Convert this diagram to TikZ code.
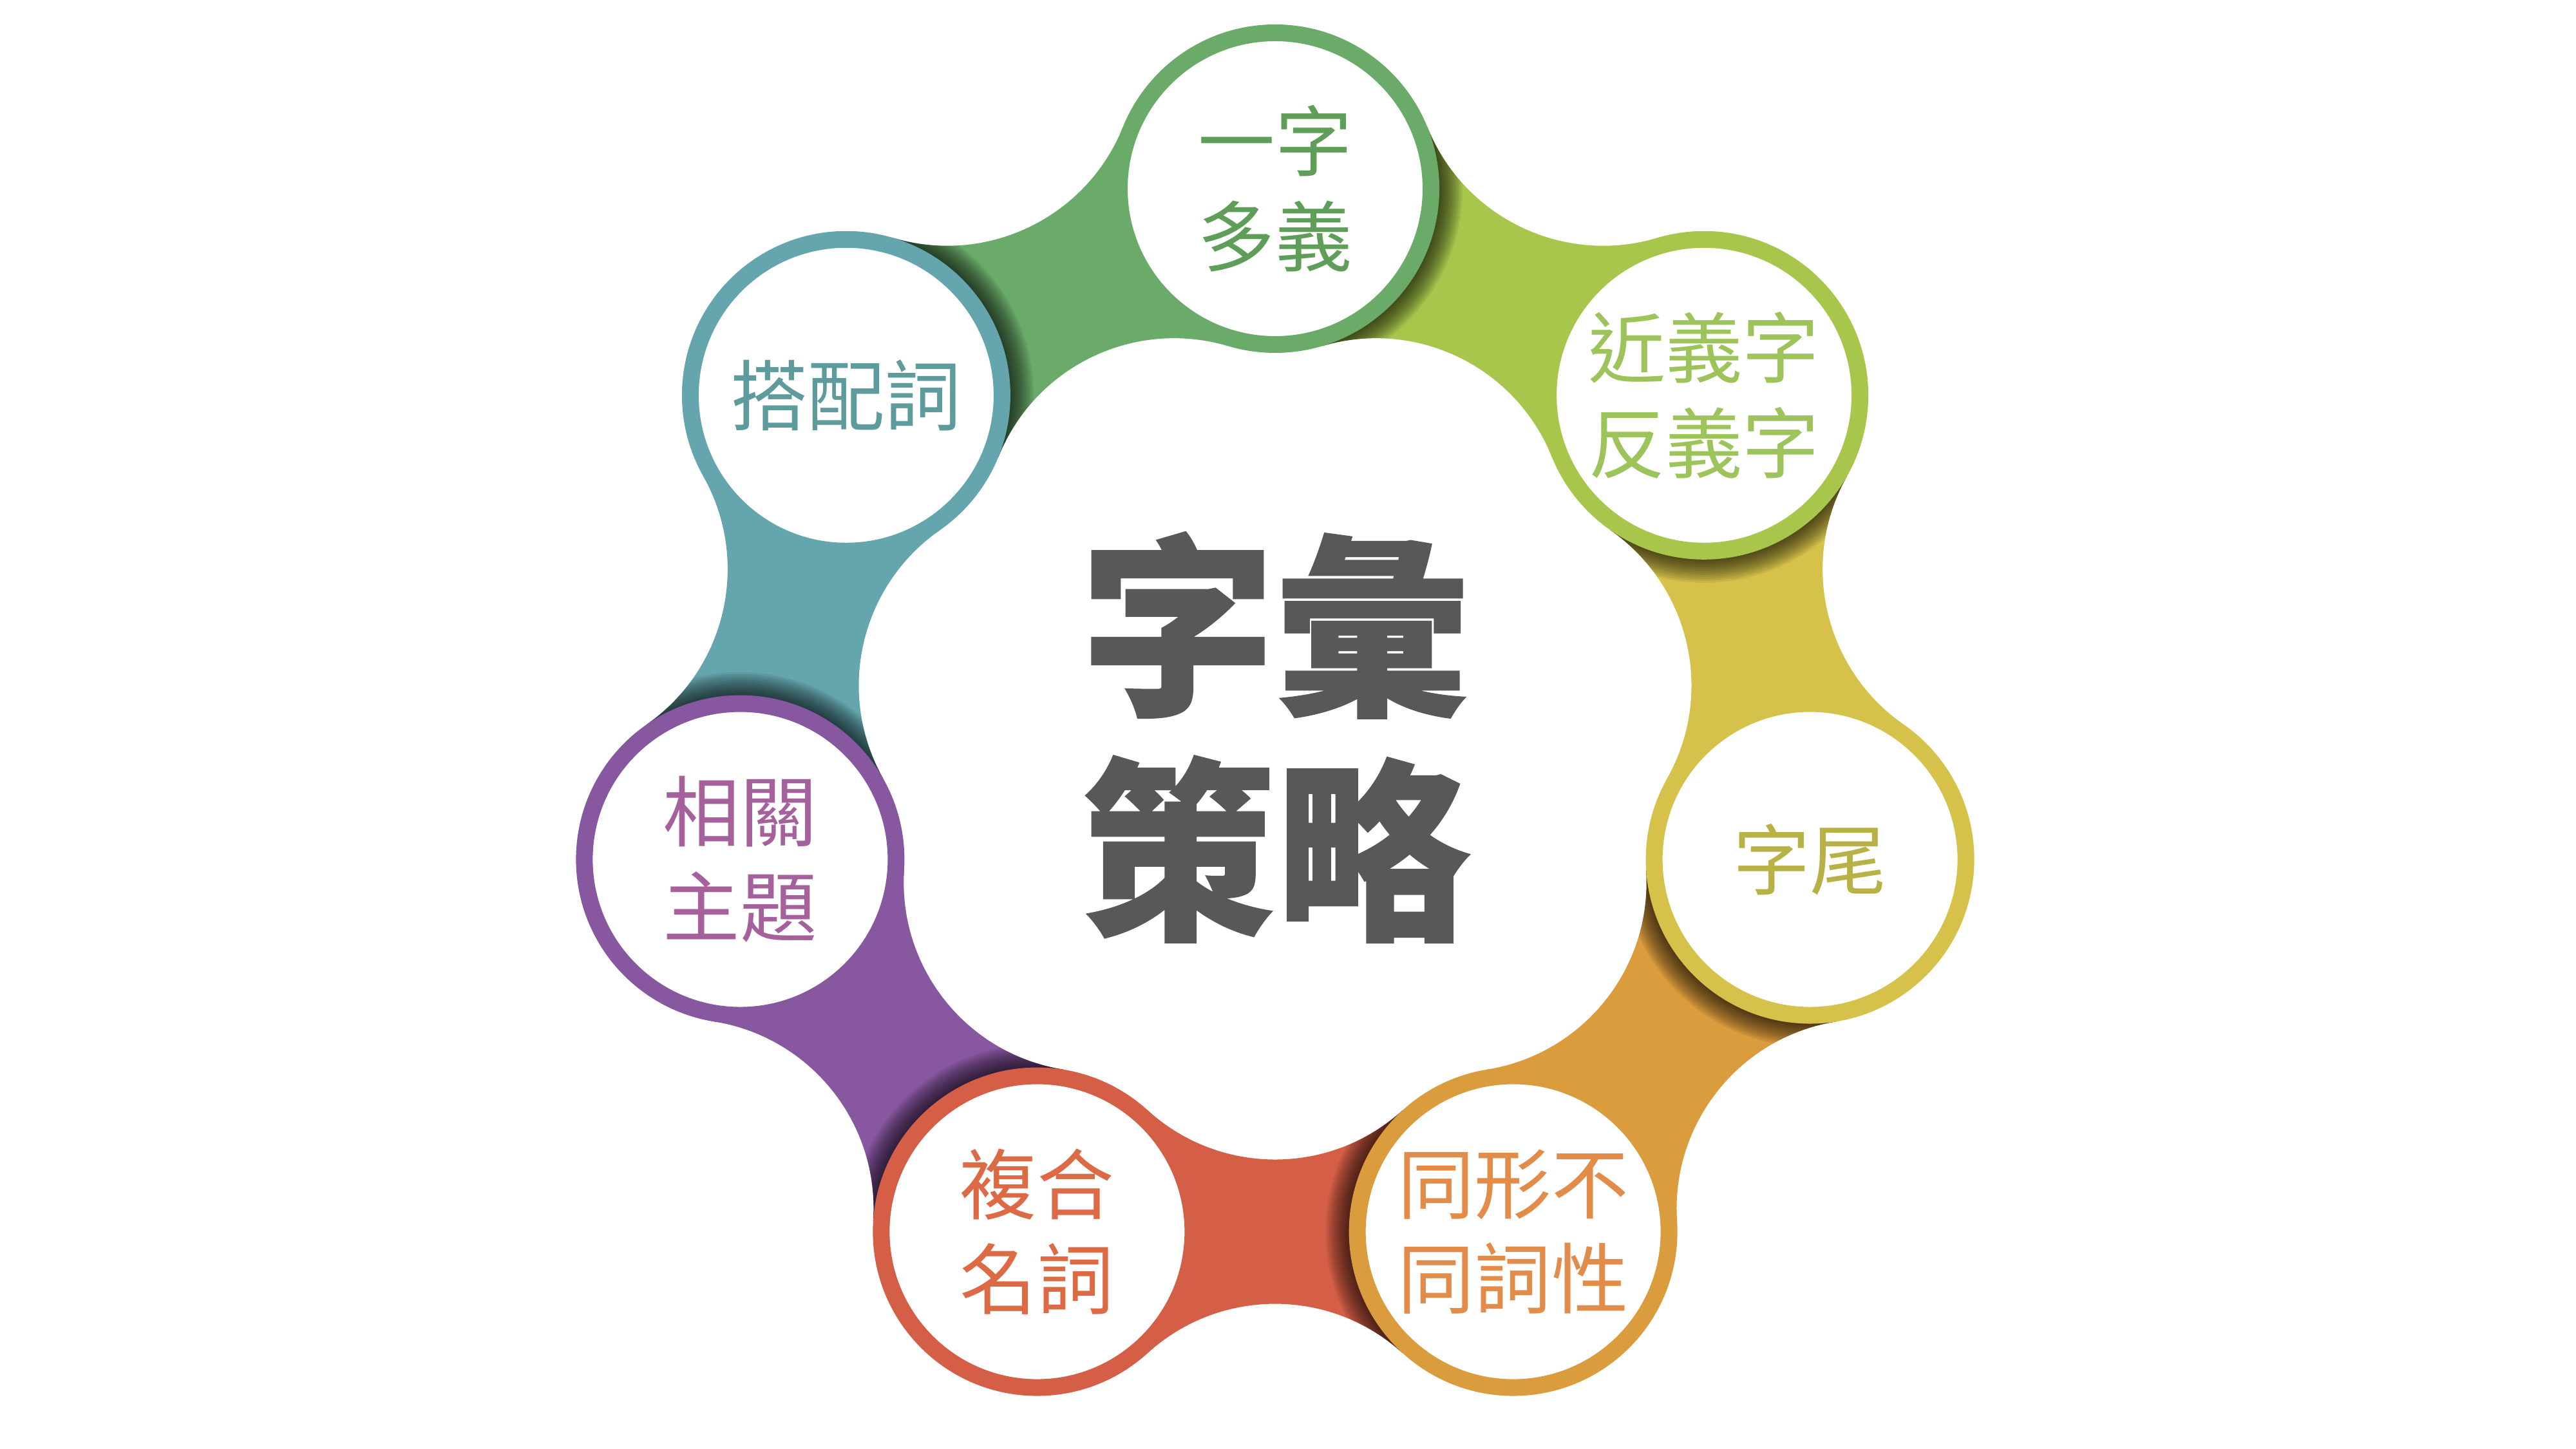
\documentclass[tikz,border=0pt]{standalone}
\usepackage{fontspec}
\usepackage{xcolor}
\newfontfamily\cjk{Noto Sans CJK TC}
\newfontfamily\cjkheavy[BoldFeatures={FakeBold=0.8}]{Noto Sans CJK TC}
\definecolor{GreenA}{HTML}{6AAB6A}
\definecolor{GreenT}{HTML}{5F9E58}
\definecolor{LimeA}{HTML}{A8C64C}
\definecolor{LimeT}{HTML}{9DC45A}
\definecolor{MustardA}{HTML}{D6C24A}
\definecolor{MustardT}{HTML}{B8B246}
\definecolor{OrangeA}{HTML}{DA9C3D}
\definecolor{OrangeT}{HTML}{E38C49}
\definecolor{RedA}{HTML}{D45F46}
\definecolor{RedT}{HTML}{DC6A45}
\definecolor{PurpleA}{HTML}{8757A0}
\definecolor{PurpleT}{HTML}{A5619C}
\definecolor{TealA}{HTML}{65A6AE}
\definecolor{TealT}{HTML}{5E9B9C}
\definecolor{Ink}{HTML}{58585A}
\tikzset{
  bubble/.style 2 args={circle, draw=#1, fill=white, line width=2.6mm, minimum size=48.4mm, inner sep=0pt, align=center, text=#2, font=\cjk\fontsize{34}{42}\selectfont},
  core/.style={align=center, text=Ink, font=\cjkheavy\bfseries\fontsize{86}{99}\selectfont}
}
% one neck between two neighbouring circles, in its own frame
\newcommand\neckpath{(\Ax,\Ay) -- (\Px,\Py) arc[start angle=180-\gam, end angle=180+\gam, radius=\rad] -- (\Ax,-\Ay) -- (\Qx,-\Py) arc[start angle=-\gam, end angle=\gam, radius=\rad] -- cycle}

\begin{document}
\begin{tikzpicture}
  \useasboundingbox (0,0) rectangle (40,22.5);
  \begin{scope}[shift={(19.8,11.05)}]
    % ring geometry
    \pgfmathsetmacro\R{8.52}
    \pgfmathsetmacro\rr{2.55}
    \pgfmathsetmacro\ww{1.12}
    \pgfmathsetmacro\Ax{\R*cos(180/7)}
    \pgfmathsetmacro\Ay{\R*sin(180/7)}
    \pgfmathsetmacro\rad{(\Ay*\Ay+\ww*\ww-\rr*\rr)/(2*(\rr-\ww))}
    \pgfmathsetmacro\hh{\ww+\rad}
    \pgfmathsetmacro\gam{atan(\Ay/\hh)}
    \pgfmathsetmacro\Py{\rad*sin(\gam)}
    \pgfmathsetmacro\Px{\Ax+\hh-\rad*cos(\gam)}
    \pgfmathsetmacro\Qx{\Ax-\hh+\rad*cos(\gam)}

    % necks, coloured like the next circle, shaded by the one before
    \foreach \k/\col in {0/LimeA,1/MustardA,2/OrangeA,3/RedA,4/PurpleA,5/TealA,6/GreenA}{
      \begin{scope}[rotate={90-360/7*\k-180/7}]
        \fill[\col] \neckpath;
        \clip \neckpath;
        \foreach \j in {1,...,12}
          \fill[black, fill opacity=0.07] (\Ax,\Ay) circle ({\rr+0.03*\j});
      \end{scope}
    }

    \node[bubble={GreenA}{GreenT}] (yizi) at (90:\R) {一字\\多義};
    \node[bubble={LimeA}{LimeT}] (jinyi) at ({90-360/7}:\R) {近義字\\反義字};
    \node[bubble={MustardA}{MustardT}] (ziwei) at ({90-2*360/7}:\R) {字尾};
    \node[bubble={OrangeA}{OrangeT}] (tongxing) at ({90-3*360/7}:\R) {同形不\\同詞性};
    \node[bubble={RedA}{RedT}] (fuhe) at ({90-4*360/7}:\R) {複合\\名詞};
    \node[bubble={PurpleA}{PurpleT}] (xiangguan) at ({90-5*360/7}:\R) {相關\\主題};
    \node[bubble={TealA}{TealT}] (dapei) at ({90-6*360/7}:\R) {搭配詞};

    \node[core] (hub) at (0,0) {字彙\\策略};
  \end{scope}
\end{tikzpicture}
\end{document}
